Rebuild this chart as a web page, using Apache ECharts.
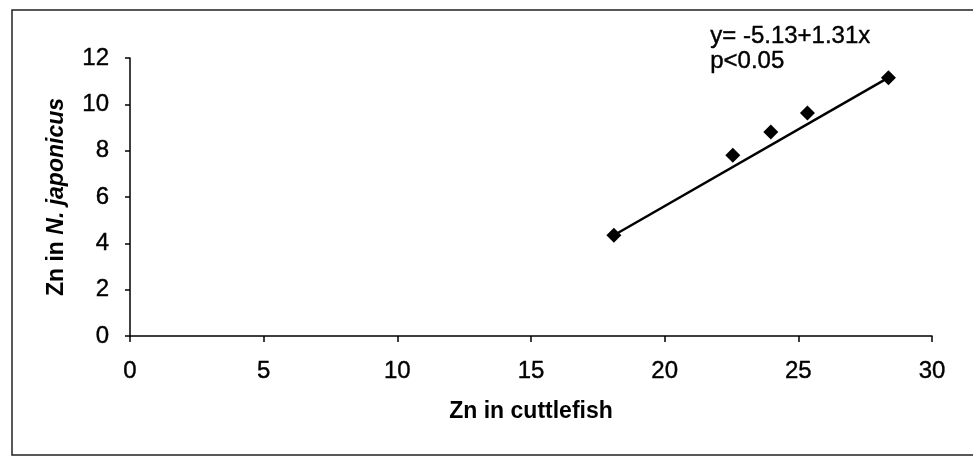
<!DOCTYPE html>
<html>
<head>
<meta charset="utf-8">
<script src="https://cdn.jsdelivr.net/npm/echarts@6/dist/echarts.min.js"></script>
<style>
html,body{margin:0;padding:0;background:#fff;}
#chart{width:973px;height:464px;}
</style>
</head>
<body>
<div id="chart"></div>
<script>
// Data
var cuttlefishZn = [18.1, 22.55, 23.97, 25.34, 28.37];
var japonicusZn = [4.35, 7.8, 8.81, 9.63, 11.15];
// Fitted line endpoints as drawn in the figure
var fitX = [18.1, 28.37];
var fitY = [4.35, 11.15];
var xTicks = [0, 5, 10, 15, 20, 25, 30];
var yTicks = [0, 2, 4, 6, 8, 10, 12];
var equationText = 'y= -5.13+1.31x';
var pText = 'p<0.05';
var xTitle = 'Zn in cuttlefish';
var yTitlePlain = 'Zn in ';
var yTitleItalic = 'N. japonicus';

var FONT = "'Liberation Sans', Arial, Helvetica, sans-serif";

var chart = echarts.init(document.getElementById('chart'), null, {renderer: 'canvas'});

var scatterData = cuttlefishZn.map(function (x, i) { return [x, japonicusZn[i]]; });
var lineData = fitX.map(function (x, i) { return [x, fitY[i]]; });

var labelStyle = {fontFamily: FONT, fontSize: 24, color: '#000', textBorderColor: '#000', textBorderWidth: 0.4};

var option = {
  backgroundColor: '#ffffff',
  animation: false,
  grid: {left: 130, right: 41, top: 58, bottom: 128, containLabel: false},
  xAxis: {
    type: 'value',
    min: xTicks[0],
    max: xTicks[xTicks.length - 1],
    interval: xTicks[1] - xTicks[0],
    name: xTitle,
    nameLocation: 'middle',
    nameGap: 64,
    nameTextStyle: {fontFamily: FONT, fontSize: 23, fontWeight: 'bold', color: '#000'},
    axisLine: {show: true, onZero: false, lineStyle: {color: '#000', width: 1.5}},
    axisTick: {show: true, inside: false, length: 6, lineStyle: {color: '#000', width: 1.5}},
    axisLabel: Object.assign({margin: 23}, labelStyle),
    splitLine: {show: false}
  },
  yAxis: {
    type: 'value',
    min: yTicks[0],
    max: yTicks[yTicks.length - 1],
    interval: yTicks[1] - yTicks[0],
    name: '{b|' + yTitlePlain + '}{i|' + yTitleItalic + '}',
    nameLocation: 'middle',
    nameGap: 62,
    nameRotate: 90,
    nameTextStyle: {
      fontFamily: FONT, fontSize: 23, fontWeight: 'bold', color: '#000',
      rich: {
        b: {fontFamily: FONT, fontSize: 23, fontWeight: 'bold', color: '#000'},
        i: {fontFamily: FONT, fontSize: 23, fontWeight: 'bold', fontStyle: 'italic', color: '#000'}
      }
    },
    axisLine: {show: true, onZero: false, lineStyle: {color: '#000', width: 1.5}},
    axisTick: {show: true, inside: false, length: 5, lineStyle: {color: '#000', width: 1.5}},
    axisLabel: Object.assign({margin: 21}, labelStyle),
    splitLine: {show: false}
  },
  series: [
    {
      type: 'line',
      data: lineData,
      symbol: 'none',
      lineStyle: {color: '#000', width: 2.5},
      silent: true,
      z: 2
    },
    {
      type: 'scatter',
      data: scatterData,
      symbol: 'diamond',
      symbolSize: 15,
      itemStyle: {color: '#000', opacity: 1},
      z: 3
    }
  ],
  graphic: [
    {
      type: 'polyline',
      shape: {points: [[973, 10], [12, 10], [12, 455], [973, 455]]},
      style: {stroke: '#222', lineWidth: 1.5, fill: null},
      silent: true
    },
    {
      type: 'text', left: 710, top: 24,
      style: {text: equationText, font: '24px ' + FONT, fill: '#000', stroke: '#000', lineWidth: 0.4}
    },
    {
      type: 'text', left: 710, top: 49,
      style: {text: pText, font: '24px ' + FONT, fill: '#000', stroke: '#000', lineWidth: 0.4}
    }
  ]
};
chart.setOption(option);
</script>
</body>
</html>
